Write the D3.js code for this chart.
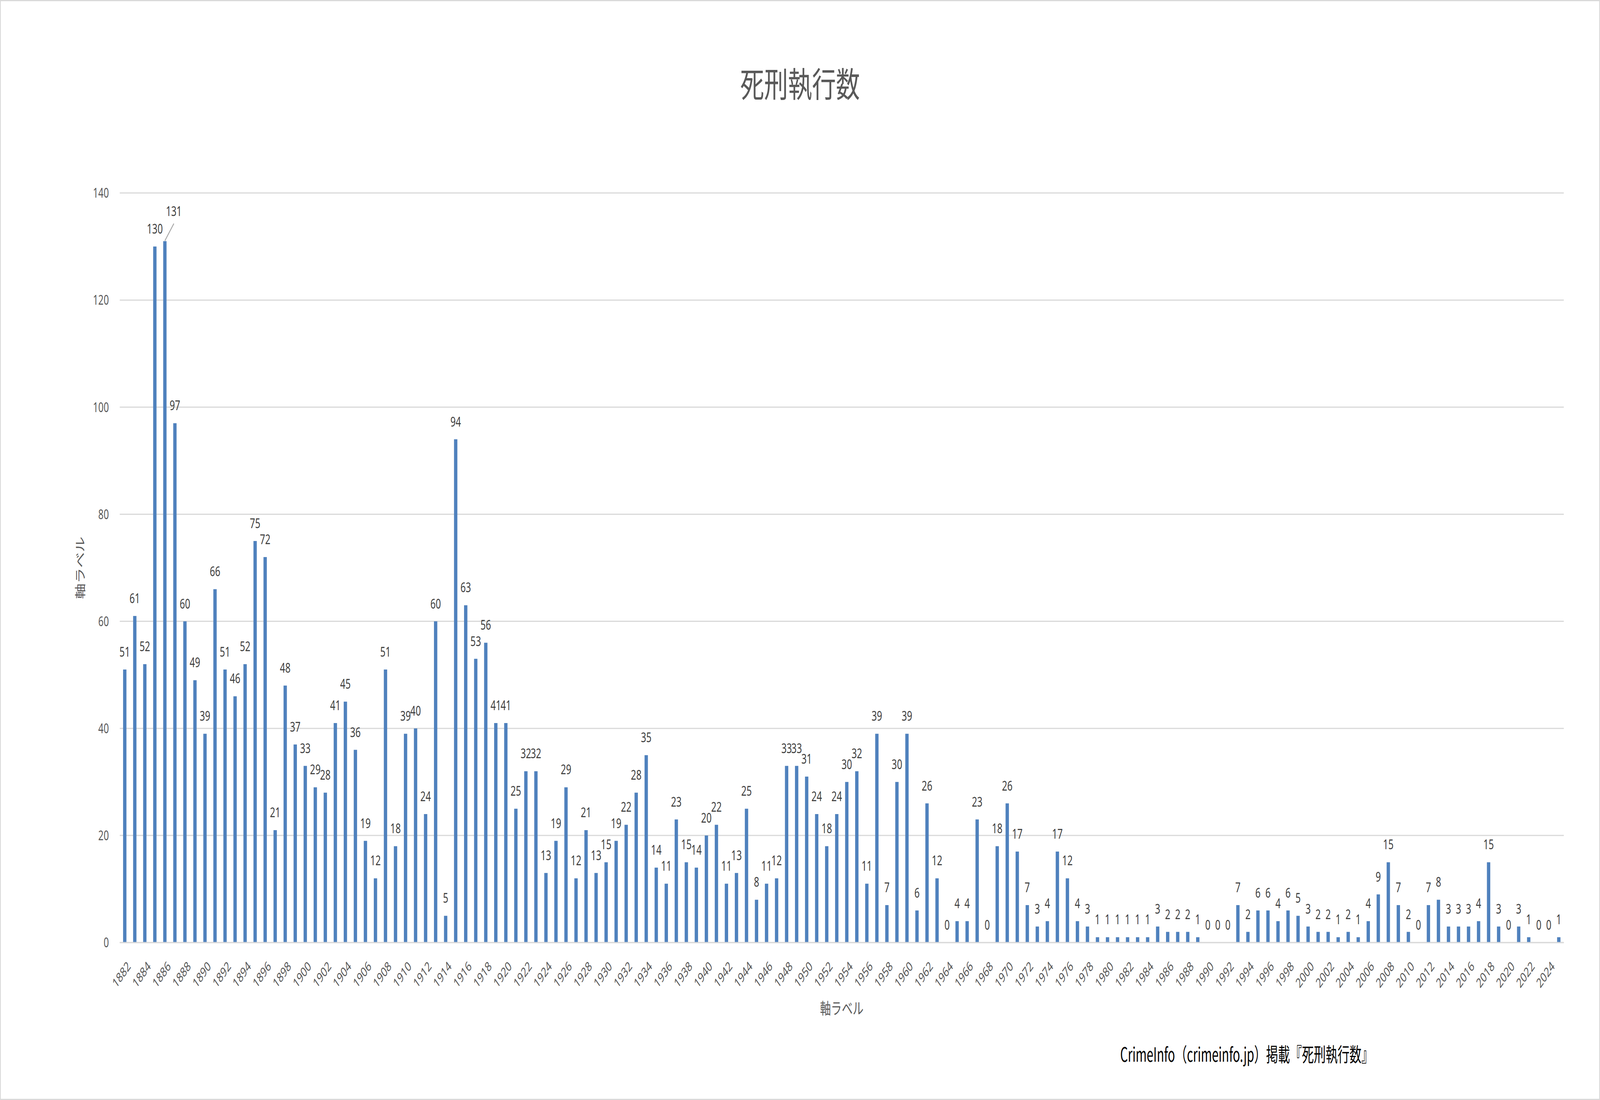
<!DOCTYPE html>
<html>
<head>
<meta charset="utf-8">
<script src="https://cdn.jsdelivr.net/npm/d3@7"></script>
<style>
  html, body { margin: 0; padding: 0; background: #fff; width: 100%; height: 100%; overflow: hidden; }
  svg { display: block; width: 100vw; height: 100vh; }
</style>
</head>
<body>
<svg id="chart"></svg>
<script>
const width = 5879;
const height = 2816;

// 年（カテゴリ）
const years = [
  1882, 1883, 1884, 1885, 1886, 1887, 1888, 1889, 1890, 1891,
  1892, 1893, 1894, 1895, 1896, 1897, 1898, 1899, 1900, 1901,
  1902, 1903, 1904, 1905, 1906, 1907, 1908, 1909, 1910, 1911,
  1912, 1913, 1914, 1915, 1916, 1917, 1918, 1919, 1920, 1921,
  1922, 1923, 1924, 1925, 1926, 1927, 1928, 1929, 1930, 1931,
  1932, 1933, 1934, 1935, 1936, 1937, 1938, 1939, 1940, 1941,
  1942, 1943, 1944, 1945, 1946, 1947, 1948, 1949, 1950, 1951,
  1952, 1953, 1954, 1955, 1956, 1957, 1958, 1959, 1960, 1961,
  1962, 1963, 1964, 1965, 1966, 1967, 1968, 1969, 1970, 1971,
  1972, 1973, 1974, 1975, 1976, 1977, 1978, 1979, 1980, 1981,
  1982, 1983, 1984, 1985, 1986, 1987, 1988, 1989, 1990, 1991,
  1992, 1993, 1994, 1995, 1996, 1997, 1998, 1999, 2000, 2001,
  2002, 2003, 2004, 2005, 2006, 2007, 2008, 2009, 2010, 2011,
  2012, 2013, 2014, 2015, 2016, 2017, 2018, 2019, 2020, 2021,
  2022, 2023, 2024, 2025
];

// 死刑執行数
const executions = [
  51, 61, 52, 130, 131, 97, 60, 49, 39, 66,
  51, 46, 52, 75, 72, 21, 48, 37, 33, 29,
  28, 41, 45, 36, 19, 12, 51, 18, 39, 40,
  24, 60, 5, 94, 63, 53, 56, 41, 41, 25,
  32, 32, 13, 19, 29, 12, 21, 13, 15, 19,
  22, 28, 35, 14, 11, 23, 15, 14, 20, 22,
  11, 13, 25, 8, 11, 12, 33, 33, 31, 24,
  18, 24, 30, 32, 11, 39, 7, 30, 39, 6,
  26, 12, 0, 4, 4, 23, 0, 18, 26, 17,
  7, 3, 4, 17, 12, 4, 3, 1, 1, 1,
  1, 1, 1, 3, 2, 2, 2, 1, 0, 0,
  0, 7, 2, 6, 6, 4, 6, 5, 3, 2,
  2, 1, 2, 1, 4, 9, 15, 7, 2, 0,
  7, 8, 3, 3, 3, 4, 15, 3, 0, 3,
  1, 0, 0, 1
];

const yTicks = [0, 20, 40, 60, 80, 100, 120, 140];
const xTickYears = years.filter((y, i) => i % 2 === 0);

const titleText = '死刑執行数';
const xAxisTitle = '軸ラベル';
const yAxisTitle = '軸ラベル';
const sourceText = 'CrimeInfo（crimeinfo.jp）掲載『死刑執行数』';

// ラベルを引出線で移動した年
const leaderYear = 1886;

const data = years.map((y, i) => ({ year: y, value: executions[i] }));

const latin = "'Noto Sans', 'Open Sans', sans-serif";
const cjk = "'Noto Sans CJK JP', 'Noto Sans', sans-serif";

const plot = { left: 440, right: 5746, top: 494, bottom: 2413 };

const svg = d3.select('#chart')
    .attr('viewBox', `0 0 ${width} ${height}`)
    .attr('preserveAspectRatio', 'none');

// chart area
svg.append('rect')
    .attr('x', 1.5).attr('y', 1.5)
    .attr('width', width - 3).attr('height', height - 3)
    .attr('fill', '#fff')
    .attr('stroke', '#d9d9d9')
    .attr('stroke-width', 3);

const x = d3.scaleBand()
    .domain(years)
    .range([plot.left, plot.right])
    .paddingInner(2 / 3)
    .paddingOuter(1 / 3);

const y = d3.scaleLinear()
    .domain([0, 140])
    .range([plot.bottom, plot.top]);

// gridlines
svg.append('g')
    .selectAll('line')
    .data(yTicks)
    .join('line')
    .attr('x1', plot.left)
    .attr('x2', plot.right)
    .attr('y1', d => y(d))
    .attr('y2', d => y(d))
    .attr('stroke', '#d9d9d9')
    .attr('stroke-width', 3);

// y axis labels
svg.append('g')
    .selectAll('text')
    .data(yTicks)
    .join('text')
    .attr('x', plot.left - 40)
    .attr('y', d => y(d))
    .attr('dy', '0.36em')
    .attr('text-anchor', 'end')
    .attr('font-family', latin)
    .attr('font-size', 34)
    .attr('fill', '#595959')
    .text(d => d);

// bars
const cx = d => x(d) + x.bandwidth() / 2;

svg.append('g')
    .selectAll('rect')
    .data(data)
    .join('rect')
    .attr('x', d => x(d.year))
    .attr('y', d => y(d.value))
    .attr('width', x.bandwidth())
    .attr('height', d => y(0) - y(d.value))
    .attr('fill', '#4f81bd');

// x axis line
svg.append('line')
    .attr('x1', plot.left)
    .attr('x2', plot.right)
    .attr('y1', y(0))
    .attr('y2', y(0))
    .attr('stroke', '#d9d9d9')
    .attr('stroke-width', 3);

// x axis labels (rotated)
svg.append('g')
    .selectAll('text')
    .data(xTickYears)
    .join('text')
    .attr('transform', d => `translate(${cx(d) + 24},${y(0) + 63}) rotate(-45)`)
    .attr('text-anchor', 'end')
    .attr('font-family', latin)
    .attr('font-size', 34)
    .attr('fill', '#595959')
    .text(d => d);

// data labels
const labelGap = 33;
const leaderDx = 33;
const leaderDy = -31;

svg.append('g')
    .selectAll('text')
    .data(data)
    .join('text')
    .attr('x', d => cx(d.year) + (d.year === leaderYear ? leaderDx : 0))
    .attr('y', d => y(d.value) - labelGap + (d.year === leaderYear ? leaderDy : 0))
    .attr('text-anchor', 'middle')
    .attr('font-family', latin)
    .attr('font-size', 34)
    .attr('fill', '#404040')
    .text(d => d.value);

// leader line
const lead = data.find(d => d.year === leaderYear);
svg.append('line')
    .attr('x1', cx(lead.year))
    .attr('y1', y(lead.value) - 1)
    .attr('x2', cx(lead.year) + leaderDx)
    .attr('y2', y(lead.value) - labelGap + leaderDy + 19)
    .attr('stroke', '#a6a6a6')
    .attr('stroke-width', 3);

// title
svg.append('text')
    .attr('x', width / 2)
    .attr('y', 248)
    .attr('text-anchor', 'middle')
    .attr('font-family', cjk)
    .attr('font-size', 88)
    .attr('fill', '#595959')
    .text(titleText);

// axis titles
svg.append('text')
    .attr('x', (plot.left + plot.right) / 2)
    .attr('y', 2596)
    .attr('text-anchor', 'middle')
    .attr('font-family', cjk)
    .attr('font-size', 40)
    .attr('fill', '#595959')
    .text(xAxisTitle);

svg.append('text')
    .attr('transform', `translate(310,${(plot.top + plot.bottom) / 2}) rotate(-90)`)
    .attr('text-anchor', 'middle')
    .attr('font-family', cjk)
    .attr('font-size', 40)
    .attr('fill', '#595959')
    .text(yAxisTitle);

// source note
svg.append('text')
    .attr('x', 4116)
    .attr('y', 2718)
    .attr('font-family', cjk)
    .attr('font-size', 50)
    .attr('fill', '#000')
    .attr('textLength', 930)
    .attr('lengthAdjust', 'spacingAndGlyphs')
    .text(sourceText);
</script>
</body>
</html>
